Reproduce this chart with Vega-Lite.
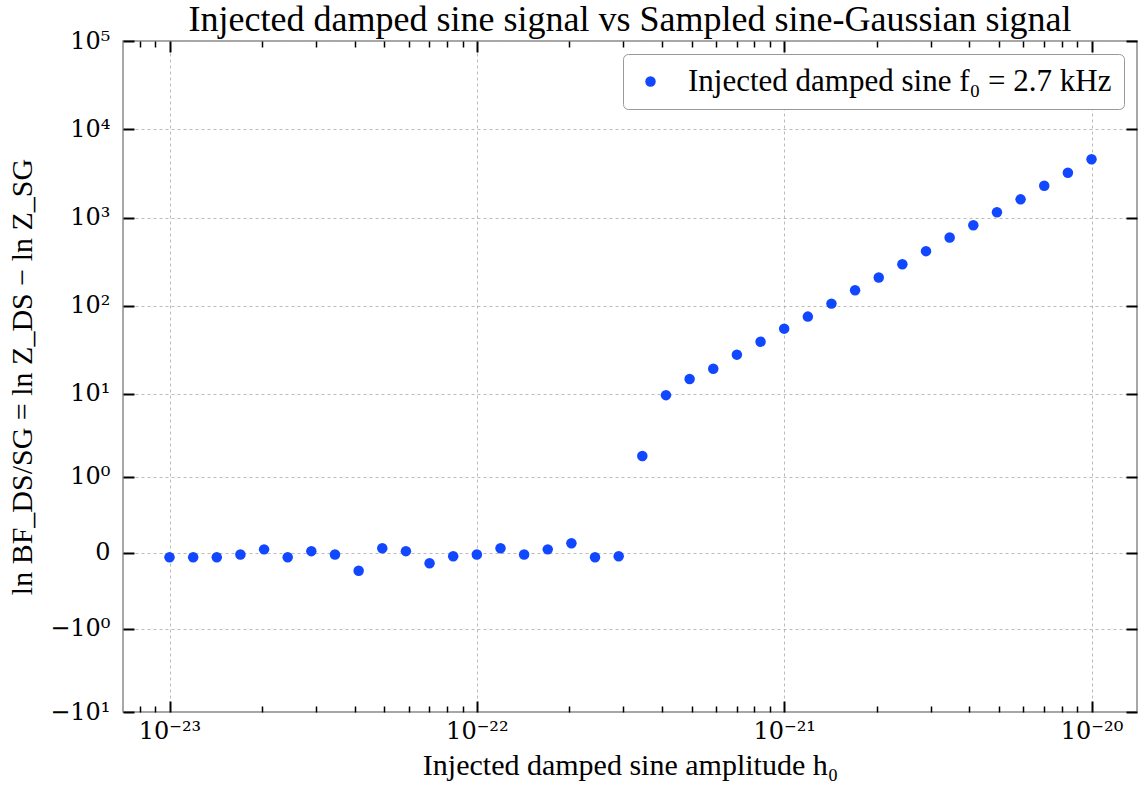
{
  "$schema": "https://vega.github.io/schema/vega-lite/v6.json",
  "width": 1014,
  "height": 671,
  "autosize": {"type": "none"},
  "padding": {"left": 123, "top": 41, "right": 2, "bottom": 75},
  "background": "white",
  "title": {
    "text": "Injected damped sine signal vs Sampled sine-Gaussian signal",
    "font": "Liberation Serif",
    "fontSize": 36,
    "fontWeight": "normal",
    "color": "black",
    "anchor": "middle",
    "baseline": "alphabetic",
    "offset": -38
  },
  "config": {
    "view": {"stroke": "#8a8a8a", "strokeWidth": 1.5},
    "axis": {
      "labelFont": "DejaVu Serif",
      "labelFontSize": 24,
      "labelColor": "black",
      "titleFont": "Liberation Serif",
      "titleFontSize": 30,
      "titleFontWeight": "normal",
      "titleColor": "black",
      "tickColor": "black",
      "gridColor": "#a8a8a8",
      "gridDash": [3, 3],
      "gridWidth": 0.8,
      "domain": false,
      "labelOverlap": false
    }
  },
  "data": {
    "values": [
      {"h0": 1e-23, "lnBF": -0.02},
      {"h0": 1.194e-23, "lnBF": -0.02},
      {"h0": 1.425e-23, "lnBF": -0.02},
      {"h0": 1.701e-23, "lnBF": -0.007},
      {"h0": 2.031e-23, "lnBF": 0.015},
      {"h0": 2.424e-23, "lnBF": -0.02},
      {"h0": 2.894e-23, "lnBF": 0.007},
      {"h0": 3.455e-23, "lnBF": -0.007},
      {"h0": 4.125e-23, "lnBF": -0.095},
      {"h0": 4.924e-23, "lnBF": 0.02},
      {"h0": 5.878e-23, "lnBF": 0.007},
      {"h0": 7.017e-23, "lnBF": -0.05},
      {"h0": 8.377e-23, "lnBF": -0.015},
      {"h0": 1e-22, "lnBF": -0.007},
      {"h0": 1.194e-22, "lnBF": 0.02},
      {"h0": 1.425e-22, "lnBF": -0.007},
      {"h0": 1.701e-22, "lnBF": 0.015},
      {"h0": 2.031e-22, "lnBF": 0.045},
      {"h0": 2.424e-22, "lnBF": -0.02},
      {"h0": 2.894e-22, "lnBF": -0.015},
      {"h0": 3.455e-22, "lnBF": 1.84},
      {"h0": 4.125e-22, "lnBF": 9.6},
      {"h0": 4.924e-22, "lnBF": 14.7},
      {"h0": 5.878e-22, "lnBF": 19.3},
      {"h0": 7.017e-22, "lnBF": 27.9},
      {"h0": 8.377e-22, "lnBF": 39.2},
      {"h0": 1e-21, "lnBF": 55.1},
      {"h0": 1.194e-21, "lnBF": 75.5},
      {"h0": 1.425e-21, "lnBF": 106},
      {"h0": 1.701e-21, "lnBF": 150},
      {"h0": 2.031e-21, "lnBF": 210},
      {"h0": 2.424e-21, "lnBF": 296},
      {"h0": 2.894e-21, "lnBF": 417},
      {"h0": 3.455e-21, "lnBF": 595},
      {"h0": 4.125e-21, "lnBF": 820},
      {"h0": 4.924e-21, "lnBF": 1150},
      {"h0": 5.878e-21, "lnBF": 1610},
      {"h0": 7.017e-21, "lnBF": 2295},
      {"h0": 8.377e-21, "lnBF": 3225},
      {"h0": 1e-20, "lnBF": 4590}
    ]
  },
  "layer": [
    {
      "mark": {"type": "point", "filled": true, "size": 110, "opacity": 1},
      "encoding": {
        "x": {
          "field": "h0", "type": "quantitative",
          "scale": {"type": "log", "domain": [7.058e-24, 1.406e-20], "nice": false},
          "axis": {
            "orient": "bottom",
            "values": [1e-23, 1e-22, 1e-21, 1e-20],
            "labelExpr": "datum.value < 5e-23 ? '10⁻²³' : datum.value < 5e-22 ? '10⁻²²' : datum.value < 5e-21 ? '10⁻²¹' : '10⁻²⁰'",
            "ticks": false,
            "grid": true,
            "labelPadding": 7,
            "labelFlush": false,
            "title": "Injected damped sine amplitude h₀",
            "titlePadding": 7
          }
        },
        "y": {
          "field": "lnBF", "type": "quantitative",
          "scale": {"type": "symlog", "constant": 0.16, "domain": [-10, 100000], "nice": false, "zero": false},
          "axis": {
            "orient": "left",
            "values": [-10, -1, 0, 1, 10, 100, 1000, 10000, 100000],
            "labelExpr": "datum.value == 0 ? '0' : datum.value == 1 ? '10⁰' : datum.value == -1 ? '−10⁰' : datum.value == -10 ? '−10¹' : datum.value == 10 ? '10¹' : datum.value == 100 ? '10²' : datum.value == 1000 ? '10³' : datum.value == 10000 ? '10⁴' : '10⁵'",
            "ticks": false,
            "grid": true,
            "labelPadding": 13,
            "labelFlush": false,
            "title": "ln BF_DS/SG = ln Z_DS − ln Z_SG",
            "titlePadding": 12
          }
        },
        "color": {
          "datum": "Injected damped sine f₀ = 2.7 kHz",
          "type": "nominal",
          "scale": {"range": ["#1047ff"]},
          "legend": {
            "title": null,
            "orient": "top-right",
            "offset": 13,
            "padding": 12,
            "strokeColor": "#999999",
            "fillColor": "white",
            "cornerRadius": 5,
            "labelFont": "Liberation Serif",
            "labelFontSize": 31,
            "labelColor": "black",
            "labelOffset": 22,
            "labelLimit": 600,
            "symbolType": "circle",
            "symbolSize": 110,
            "symbolStrokeWidth": 0
          }
        }
      }
    },
    {
      "mark": {"type": "point", "opacity": 0},
      "encoding": {
        "x": {
          "field": "h0", "type": "quantitative",
          "axis": {"orient": "bottom", "values": [1e-23, 1e-22, 1e-21, 1e-20], "labels": false, "grid": false, "ticks": true, "tickSize": -11, "tickWidth": 2, "title": null}
        },
        "y": {
          "field": "lnBF", "type": "quantitative",
          "axis": {"orient": "left", "values": [-10, -1, 0, 1, 10, 100, 1000, 10000, 100000], "labels": false, "grid": false, "ticks": true, "tickSize": -11, "tickWidth": 2, "title": null}
        }
      }
    },
    {
      "mark": {"type": "point", "opacity": 0},
      "encoding": {
        "x": {
          "field": "h0", "type": "quantitative",
          "axis": {"orient": "bottom", "values": [8e-24, 9e-24, 2e-23, 3e-23, 4e-23, 5e-23, 6e-23, 7e-23, 8e-23, 9e-23, 2e-22, 3e-22, 4e-22, 5e-22, 6e-22, 7e-22, 8e-22, 9e-22, 2e-21, 3e-21, 4e-21, 5e-21, 6e-21, 7e-21, 8e-21, 9e-21], "labels": false, "grid": false, "ticks": true, "tickSize": -6, "tickWidth": 1.5, "title": null}
        },
        "y": {"field": "lnBF", "type": "quantitative", "axis": null}
      }
    },
    {
      "mark": {"type": "point", "opacity": 0},
      "encoding": {
        "x": {
          "field": "h0", "type": "quantitative",
          "axis": {"orient": "top", "values": [1e-23, 1e-22, 1e-21, 1e-20], "labels": false, "grid": false, "ticks": true, "tickSize": -11, "tickWidth": 2, "title": null}
        },
        "y": {
          "field": "lnBF", "type": "quantitative",
          "axis": {"orient": "right", "values": [-10, -1, 0, 1, 10, 100, 1000, 10000, 100000], "labels": false, "grid": false, "ticks": true, "tickSize": -11, "tickWidth": 2, "title": null}
        }
      }
    },
    {
      "mark": {"type": "point", "opacity": 0},
      "encoding": {
        "x": {
          "field": "h0", "type": "quantitative",
          "axis": {"orient": "top", "values": [8e-24, 9e-24, 2e-23, 3e-23, 4e-23, 5e-23, 6e-23, 7e-23, 8e-23, 9e-23, 2e-22, 3e-22, 4e-22, 5e-22, 6e-22, 7e-22, 8e-22, 9e-22, 2e-21, 3e-21, 4e-21, 5e-21, 6e-21, 7e-21, 8e-21, 9e-21], "labels": false, "grid": false, "ticks": true, "tickSize": -6, "tickWidth": 1.5, "title": null}
        },
        "y": {"field": "lnBF", "type": "quantitative", "axis": null}
      }
    }
  ],
  "resolve": {"axis": {"x": "independent", "y": "independent"}}
}
